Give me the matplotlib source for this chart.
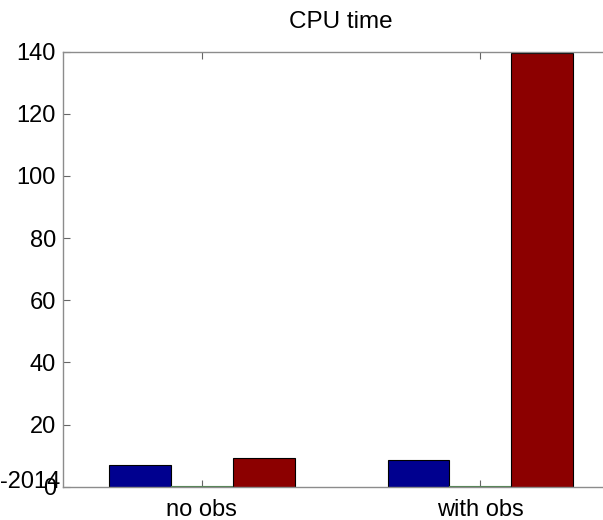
import matplotlib
matplotlib.use("Agg")
import matplotlib.pyplot as plt
import numpy as np

plt.rcParams['font.family'] = ['Liberation Sans', 'DejaVu Sans']

categories = ["no obs", "with obs"]
series_blue = [7.0, 8.6]
series_green = [0.3, 0.3]
series_red = [9.3, 139.5]
yticks = [0, 20, 40, 60, 80, 100, 120, 140]

W, H = 603, 520
fig = plt.figure(figsize=(W/100, H/100), dpi=100)
left, right, top, bottom = 62.7, 619.5, 51.7, 486.7
ax = fig.add_axes([left/W, 1 - bottom/H, (right-left)/W, (bottom-top)/H])

x = np.arange(1, len(categories) + 1)
bw = 0.222
colors = [(0, 0, 0.5625), (0.44, 1.0, 0.56), (0.55, 0, 0)]
edges = ['black', (0.3, 0.52, 0.3), 'black']
for off, vals, c, ec in zip([-bw, 0, bw], [series_blue, series_green, series_red], colors, edges):
    ax.bar(x + off, vals, width=bw, color=c, edgecolor=ec, linewidth=0.8, zorder=2)

ax.set_xlim(0.5, 2.5)
ax.set_ylim(0, 140)
ax.set_xticks(x)
ax.set_xticklabels(categories, fontsize=17)
ax.set_yticks(yticks)
ax.set_yticklabels([str(v) for v in yticks], fontsize=17)
ax.tick_params(axis='x', pad=9)
ax.tick_params(axis='y', pad=5)
ax.tick_params(direction='in', length=5, color='0.4', top=True, right=True)
for s in ax.spines.values():
    s.set_color('0.55')
    s.set_linewidth(1.0)
ax.set_title("CPU time", fontsize=17.5, pad=17)

fig.text(0, 1 - 482/H, "-2014", fontsize=17, ha='left', va='center')

fig.savefig("out.png", dpi=100)
